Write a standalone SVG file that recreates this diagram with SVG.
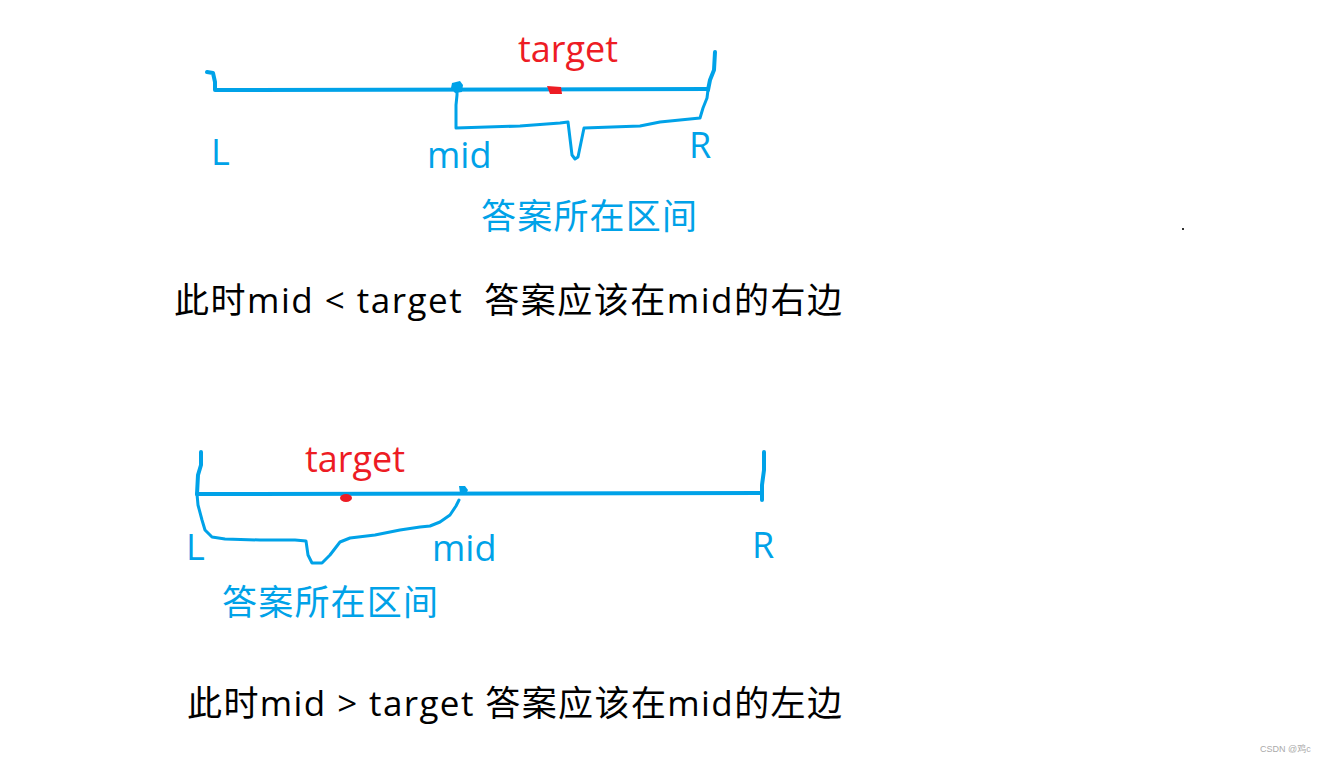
<svg xmlns="http://www.w3.org/2000/svg" width="1327" height="764" viewBox="0 0 1327 764">
<style>
.ln{fill:none;stroke:#00a2e8;stroke-width:4;stroke-linecap:round;stroke-linejoin:round}
.br{fill:none;stroke:#00a2e8;stroke-width:3;stroke-linecap:round;stroke-linejoin:round}
.lb{font-family:"Open Sans","Noto Sans CJK SC",sans-serif;fill:#00a2e8;font-size:36px}
.tg{font-family:"Open Sans","Noto Sans CJK SC",sans-serif;fill:#ed1c24;font-size:36px}
.zh{font-family:"Open Sans","Noto Sans CJK SC",sans-serif;fill:#00a2e8;font-size:35px}
.bk{font-family:"Open Sans","Noto Sans CJK SC",sans-serif;fill:#000;font-size:35px}
.wm{font-family:"Liberation Sans","Noto Sans CJK SC",sans-serif;fill:#aaa;font-size:9px}
</style>
<rect width="1327" height="764" fill="#fff"/>
<g id="connectors">
<path class="ln" d="M207,72 L213,73 L215,82 L215,90 L708,89"/>
<path class="ln" d="M715,52 L714,70 L710,80 L708,90"/>
<path class="br" d="M457,88 L457,95 L456,105 L456,128 L520,126 L560,123 L568,122 L572,155 L575,159 L578,157 L584,128 L640,126 L660,122 L700,118 L703,108 L707,98 L708,90"/>
<path class="ln" d="M197,494 L762,493"/>
<path class="ln" d="M201,452 L201,465 L198,475 L197,494"/>
<path class="ln" d="M764,452 L764,470 L762,485 L762,500"/>
<path class="br" d="M197,494 L198,505 L202,520 L205,530 L212,537 L225,539 L260,540 L295,540 L306,541 L308,555 L312,563 L322,563 L330,555 L340,542 L350,538 L375,535 L400,530 L420,527 L430,526 L440,522 L450,515 L456,506 L459,500"/>
</g>
<g id="top-mid-dot"><path d="M452,83 L460,81 L463,85 L462,92 L455,93 L451,88 Z" fill="#00a2e8"/></g>
<g id="top-target-dot"><path d="M547,86 L561,87 L562,94 L550,94 Z" fill="#ed1c24"/></g>
<g id="bottom-mid-dot"><path d="M459,486 L465,486 L468,490 L466,494 L460,493 Z" fill="#00a2e8"/></g>
<g id="bottom-target-dot"><ellipse cx="346" cy="498" rx="6" ry="4" fill="#ed1c24"/></g>
<g id="top-labels">
<text class="tg" x="518" y="62">target</text>
<text class="lb" x="211" y="165">L</text>
<text class="lb" x="427" y="168">mid</text>
<text class="lb" x="689" y="158">R</text>
<text class="zh" x="481" y="229" textLength="216">答案所在区间</text>
</g>
<g id="top-caption"><text class="bk" x="174" y="313" textLength="668">此时mid &lt; target&#160; 答案应该在mid的右边</text></g>
<g id="bottom-labels">
<text class="tg" x="305" y="472">target</text>
<text class="lb" x="186" y="560">L</text>
<text class="lb" x="432" y="561">mid</text>
<text class="lb" x="752" y="558">R</text>
<text class="zh" x="222" y="615" textLength="216">答案所在区间</text>
</g>
<g id="bottom-caption"><text class="bk" x="187" y="716" textLength="655">此时mid &gt; target 答案应该在mid的左边</text></g>
<g id="dot"><rect x="1182" y="228" width="2" height="2" fill="#333"/></g>
<g id="watermark"><text class="wm" x="1260" y="752">CSDN @鸡c</text></g>
</svg>
